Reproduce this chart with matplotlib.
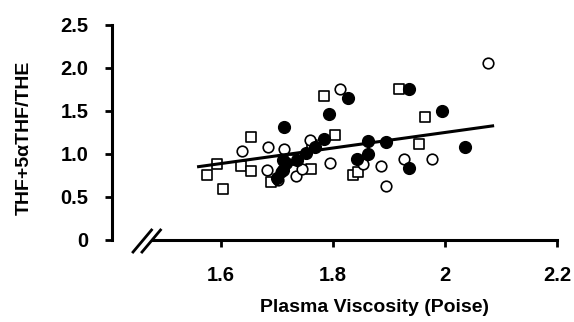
import matplotlib
matplotlib.use("Agg")
import matplotlib.pyplot as plt
import numpy as np

plt.rcParams['font.family'] = ['Liberation Sans', 'DejaVu Sans']
plt.rcParams['font.weight'] = 'bold'

# filled circles
filled_x = [1.712, 1.793, 1.826, 1.935, 1.995, 1.784, 1.863, 1.895, 1.863, 1.843,
            1.935, 2.036, 1.768, 1.752, 1.736, 1.716, 1.711, 1.711, 1.700]
filled_y = [1.31, 1.46, 1.65, 1.75, 1.50, 1.17, 1.15, 1.14, 1.00, 0.94,
            0.84, 1.08, 1.08, 1.01, 0.93, 0.90, 0.93, 0.81, 0.72]

# open circles
open_x = [1.637, 1.684, 1.713, 1.759, 1.683, 1.707, 1.734, 1.702, 1.745, 1.795,
          1.813, 1.854, 1.885, 1.895, 1.926, 1.976, 2.076]
open_y = [1.03, 1.08, 1.06, 1.16, 0.81, 0.79, 0.74, 0.70, 0.83, 0.90,
          1.75, 0.88, 0.86, 0.63, 0.94, 0.94, 2.06]

# open squares
sq_x = [1.575, 1.603, 1.593, 1.654, 1.635, 1.653, 1.689, 1.725, 1.763, 1.761,
        1.784, 1.804, 1.918, 1.964, 1.954, 1.835, 1.845]
sq_y = [0.75, 0.59, 0.88, 1.20, 0.86, 0.80, 0.68, 0.93, 1.11, 0.83,
        1.68, 1.22, 1.76, 1.43, 1.12, 0.75, 0.79]

# regression line
fit_slope = 0.903
fit_intercept = -0.556
fit_range = [1.56, 2.085]

x_ticks = [1.6, 1.8, 2.0, 2.2]
x_ticklabels = ['1.6', '1.8', '2', '2.2']
y_ticks = [0, 0.5, 1.0, 1.5, 2.0, 2.5]
y_ticklabels = ['0', '0.5', '1.0', '1.5', '2.0', '2.5']

fig = plt.figure(figsize=(5.74, 3.22), dpi=100)
ax = fig.add_axes([0.1951, 0.2547, 0.7753, 0.6677])

ax.scatter(sq_x, sq_y, marker='s', s=50, facecolors='white', edgecolors='black',
           linewidths=1.2, zorder=3)
ax.scatter(open_x, open_y, marker='o', s=58, facecolors='white', edgecolors='black',
           linewidths=1.2, zorder=3)
ax.scatter(filled_x, filled_y, marker='o', s=72, color='black', zorder=4)

fx = np.array(fit_range)
ax.plot(fx, fit_intercept + fit_slope * fx, color='black', lw=2.2, zorder=5)

ax.set_xlim(1.4054, 2.2)
ax.set_ylim(0, 2.5)
for side in ['top', 'right']:
    ax.spines[side].set_visible(False)
for side in ['left', 'bottom']:
    ax.spines[side].set_linewidth(2.2)
ax.spines['bottom'].set_bounds(1.4786, 2.2)

ax.set_xticks(x_ticks)
ax.set_xticklabels(x_ticklabels)
ax.set_yticks(y_ticks)
ax.set_yticklabels(y_ticklabels)
ax.tick_params(axis='both', direction='out', length=5, width=2.0, labelsize=14.5)
ax.tick_params(axis='x', pad=14)
ax.tick_params(axis='y', pad=12)

# axis break marks
for x0 in [1.443, 1.459]:
    ax.plot([x0, x0 + 0.033], [-0.14, 0.116], color='black', lw=2.0, clip_on=False)

ax.set_xlabel('Plasma Viscosity (Poise)', fontsize=14, fontweight='bold',
              labelpad=10, x=0.591)
ax.set_ylabel('THF+5\u03b1THF/THE', fontsize=14, fontweight='bold',
              labelpad=20, y=0.477)

fig.savefig('out.png', dpi=100)
